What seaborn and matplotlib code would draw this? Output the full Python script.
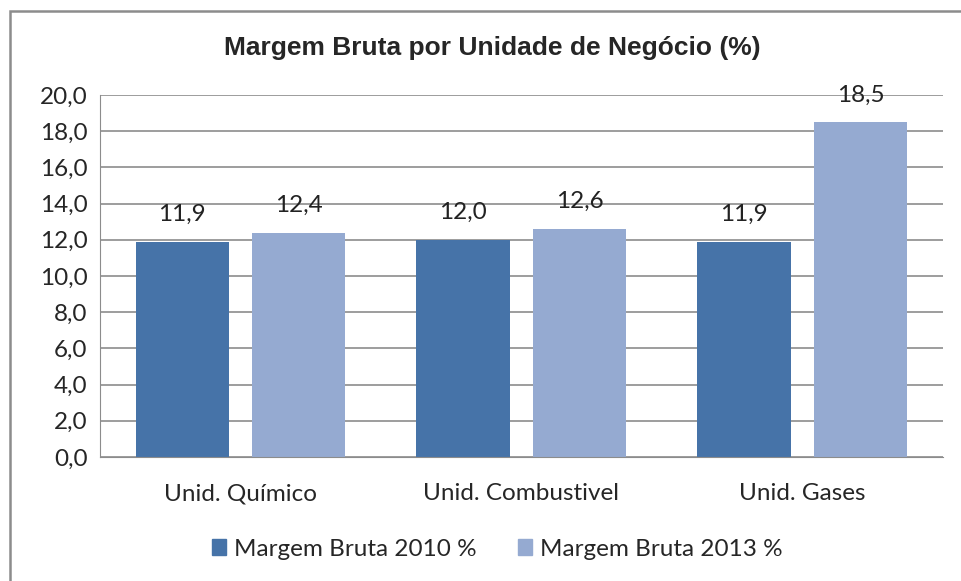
import seaborn as sns
import matplotlib.pyplot as plt
import matplotlib.patches as mpatches
import pandas as pd

# data
units = ["Unid. Químico", "Unid. Combustivel", "Unid. Gases"]
margem_2010 = [11.9, 12.0, 11.9]
margem_2013 = [12.4, 12.6, 18.5]
series = ["Margem Bruta 2010 %", "Margem Bruta 2013 %"]
colors = ["#4673A8", "#95AAD1"]

df = pd.DataFrame({
    "unid": units * 2,
    "valor": margem_2010 + margem_2013,
    "serie": [series[0]] * 3 + [series[1]] * 3,
})

sns.set_style("white")
plt.rcParams["font.family"] = ["Lato", "DejaVu Sans"]
fs = 17.5

fig = plt.figure(figsize=(9.62, 5.81), dpi=100)
ax = fig.add_axes([0.104, 0.2134, 0.876, 0.623])

sns.barplot(data=df, x="unid", y="valor", hue="serie", palette=colors,
            width=0.83, gap=0.2, ax=ax, saturation=1, linewidth=0, legend=True)

ax.set_ylim(0, 20)
ax.set_yticks(range(0, 21, 2))
ax.set_yticklabels([f"{v:.1f}".replace(".", ",") for v in range(0, 21, 2)], fontsize=fs)
ax.set_xlim(-0.5, 2.5)
ax.tick_params(axis="x", labelsize=fs, length=0, pad=19)
ax.tick_params(axis="y", length=0, pad=9)
ax.set_xlabel("")
ax.set_ylabel("")
ax.yaxis.grid(True, color="#8c8c8c", linewidth=1.2)
ax.set_axisbelow(True)
for s in ["top", "right"]:
    ax.spines[s].set_visible(False)
ax.spines["left"].set_color("#8c8c8c")
ax.spines["bottom"].set_color("#8c8c8c")

for cont in ax.containers:
    labels = [f"{b.get_height():.1f}".replace(".", ",") for b in cont]
    ax.bar_label(cont, labels=labels, padding=12, fontsize=fs, color="#222222")

fig.text(492 / 962, 1 - 48 / 581, "Margem Bruta por Unidade de Negócio (%)",
         fontsize=19, fontweight="bold", family="Liberation Sans",
         ha="center", va="center")

handles = [mpatches.Patch(color=c, label=s) for c, s in zip(colors, series)]
ax.legend(handles=handles, loc="center", bbox_to_anchor=(497 / 962, 1 - 549 / 581),
          bbox_transform=fig.transFigure, ncol=2,
          frameon=False, fontsize=fs, handlelength=0.6, handleheight=0.6,
          handletextpad=0.3, columnspacing=1.7)

# outer chart frame (only top/left visible)
fig.patches.append(mpatches.Rectangle((10 / 962, -0.1), 1.2, 1 - 11 / 581 + 0.1,
                                      transform=fig.transFigure, fill=False,
                                      edgecolor="#8c8c8c", linewidth=1.8))

fig.savefig("out.png", dpi=100)
